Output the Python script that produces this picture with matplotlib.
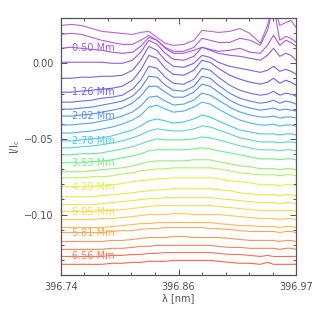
import numpy as np
import matplotlib
matplotlib.use("Agg")
import matplotlib.pyplot as plt
from matplotlib.colors import LinearSegmentedColormap
from matplotlib.ticker import AutoMinorLocator, FixedLocator

# wavelength sample points [nm]
wl = [396.740, 396.750, 396.760, 396.770, 396.780, 396.790, 396.800, 396.810,
      396.818, 396.826, 396.834, 396.842, 396.850, 396.860, 396.870, 396.878,
      396.886, 396.894, 396.905, 396.915, 396.925, 396.935, 396.942, 396.948,
      396.954, 396.960, 396.965, 396.970]

# offset of each profile (I/Ic, x1e-3), top to bottom
offsets = [25.0, 19.1, 9.9, 0.7, -9.9, -19.1, -25.7, -30.3, -34.9, -40.8,
           -46.1, -51.3, -55.9, -60.5, -65.8, -71.7, -75.7, -81.6, -88.2,
           -93.4, -98.0, -103.3, -108.6, -111.9, -117.8, -123.0, -127.7, -132.9]

# profiles relative to the blue end (x1e-3)
profiles = [
    [0, 0.7, 0, -2.0, -3.9, -4.6, -5.3, -5.9, -4.6, -3.9, -7.9, -11.8, -13.2, -12.5, -9.9, -3.3, -3.9, -4.6, -3.9, -2.0, -5.3, -11.8, 0, 16.5, 0, 2.0, 3.3, -1.3],
    [0, 0.7, 0, -2.0, -3.9, -5.3, -6.6, -6.6, -3.9, -0.7, -3.9, -8.6, -11.2, -11.2, -8.6, -2.6, -3.9, -5.3, -5.3, -2.6, -3.9, -7.2, 2.6, 19.1, -3.9, -1.3, -2.6, -5.3],
    [0, 0.7, 0, -0.7, -1.3, -2.6, -3.3, -2.6, 1.3, 7.2, 5.3, 0, -3.3, -3.3, -1.3, 0.7, -0.7, -2.0, -1.3, 0, -2.6, -3.3, 2.0, 8.6, 2.0, 5.3, 3.9, 1.3],
    [0, 0, 0, 0, 0, -0.7, -0.7, 1.3, 6.6, 14.5, 11.8, 5.9, 2.0, 1.3, 3.9, 9.9, 7.9, 5.9, 4.6, 3.9, 2.6, 1.3, 4.6, 9.2, 3.9, 5.9, 4.6, 1.3],
    [0, 0, 0.7, 0.7, 1.3, 1.3, 2.0, 5.3, 11.8, 21.1, 18.4, 11.8, 7.9, 7.2, 9.9, 15.1, 13.8, 10.5, 7.9, 6.6, 5.3, 3.9, 5.3, 7.9, 4.6, 5.9, 4.6, 2.6],
    [0, 0, 0.7, 1.3, 2.0, 2.6, 3.9, 7.9, 14.5, 24.3, 22.4, 15.8, 11.8, 11.2, 14.5, 21.1, 19.7, 15.8, 11.2, 8.6, 6.6, 5.3, 6.6, 9.2, 5.9, 7.9, 6.6, 4.6],
    [0, 0, 0.7, 1.3, 2.6, 3.3, 4.6, 8.6, 14.5, 23.7, 22.4, 16.5, 12.5, 11.8, 15.1, 22.4, 21.1, 16.5, 11.2, 7.9, 5.9, 4.6, 5.3, 7.2, 4.6, 5.9, 5.3, 3.9],
    [0, 0, 0.7, 1.3, 2.6, 3.9, 5.3, 8.6, 13.8, 21.7, 21.1, 15.8, 12.5, 11.8, 15.1, 21.7, 20.4, 15.8, 10.5, 7.2, 5.3, 3.9, 4.6, 5.9, 3.9, 5.3, 4.6, 3.3],
    [0, 0, 0.7, 1.3, 2.6, 3.9, 5.3, 8.6, 13.2, 19.7, 19.7, 15.8, 12.5, 12.5, 15.8, 21.1, 19.7, 15.8, 10.5, 7.2, 5.3, 3.9, 4.6, 5.3, 3.9, 4.6, 3.9, 3.3],
    [0, 0, 0.7, 1.3, 2.6, 3.9, 5.9, 8.6, 12.5, 18.4, 19.1, 15.8, 13.2, 13.8, 16.5, 21.1, 19.7, 16.5, 11.8, 8.6, 6.6, 5.3, 5.3, 5.9, 4.6, 5.3, 5.3, 4.6],
    [0, 0, 0.7, 1.3, 2.6, 3.9, 5.9, 8.6, 11.8, 17.1, 18.4, 15.8, 13.8, 14.5, 17.1, 20.4, 19.1, 15.8, 11.8, 8.6, 6.6, 5.3, 5.3, 5.9, 4.6, 5.3, 5.3, 4.6],
    [0, 0, 0.7, 1.3, 2.0, 3.3, 5.3, 7.2, 9.9, 13.2, 14.5, 13.2, 11.8, 12.5, 14.5, 17.1, 15.8, 13.2, 9.9, 7.2, 5.9, 4.6, 4.6, 4.6, 3.9, 4.6, 4.6, 3.9],
    [0, 0, 0.7, 1.3, 2.0, 3.3, 4.6, 6.6, 8.6, 11.2, 12.5, 11.8, 11.2, 11.2, 12.5, 14.5, 13.8, 11.8, 9.2, 6.6, 5.3, 3.9, 3.9, 3.9, 3.3, 3.9, 3.9, 3.3],
    [0, 0, 0.7, 0.7, 1.3, 2.6, 3.9, 5.3, 7.2, 9.2, 10.5, 9.9, 9.9, 9.9, 10.5, 11.8, 11.2, 9.9, 7.9, 5.9, 4.6, 3.3, 3.3, 3.3, 2.6, 3.3, 3.3, 2.6],
    [0, 0, 0, 0.7, 1.3, 2.0, 3.3, 4.6, 5.9, 7.9, 8.6, 8.6, 8.6, 8.6, 9.2, 9.9, 9.2, 7.9, 6.6, 5.3, 3.9, 2.6, 2.6, 2.6, 2.0, 2.6, 2.6, 2.0],
    [0, 0, 0, 0.7, 1.3, 2.0, 2.6, 3.9, 5.3, 6.6, 7.2, 7.2, 7.2, 7.2, 7.9, 7.9, 7.9, 6.6, 5.3, 3.9, 3.3, 2.0, 2.0, 2.0, 1.3, 2.0, 2.0, 1.3],
    [0, 0, 0, 0.7, 0.7, 1.3, 2.6, 3.3, 4.6, 5.3, 5.9, 5.9, 6.6, 6.6, 6.6, 6.6, 6.6, 5.9, 4.6, 3.3, 2.6, 2.0, 2.0, 2.0, 1.3, 2.0, 2.0, 1.3],
    [0, 0, 0, 0, 0.7, 1.3, 2.0, 3.3, 3.9, 4.6, 5.3, 5.3, 5.9, 5.9, 5.9, 5.9, 5.9, 5.3, 3.9, 3.3, 2.6, 1.3, 1.3, 1.3, 0.7, 1.3, 1.3, 0.7],
    [0, 0, 0, 0, 0.7, 1.3, 2.0, 2.6, 3.3, 3.9, 4.6, 4.6, 5.3, 5.3, 5.3, 5.3, 5.3, 4.6, 3.9, 2.6, 2.0, 1.3, 1.3, 1.3, 0.7, 1.3, 1.3, 0.7],
    [0, 0, 0, 0, 0.7, 1.3, 2.0, 2.6, 3.3, 3.9, 3.9, 4.6, 4.6, 4.6, 4.6, 4.6, 4.6, 3.9, 3.3, 2.6, 2.0, 1.3, 1.3, 1.3, 0.7, 1.3, 1.3, 0.7],
    [0, 0, 0, 0, 0.7, 0.7, 1.3, 2.0, 2.6, 3.3, 3.9, 3.9, 3.9, 3.9, 3.9, 3.9, 3.9, 3.3, 2.6, 2.0, 1.3, 0.7, 0.7, 0.7, 0.7, 0.7, 0.7, 0],
    [0, 0, 0, 0, 0.7, 0.7, 1.3, 2.0, 2.6, 3.3, 3.3, 3.3, 3.9, 3.9, 3.3, 3.3, 3.3, 3.3, 2.6, 2.0, 1.3, 0.7, 0.7, 0.7, 0, 0.7, 0.7, 0],
    [0, 0, 0, 0, 0, 0.7, 1.3, 2.0, 2.6, 2.6, 3.3, 3.3, 3.3, 3.3, 3.3, 3.3, 3.3, 2.6, 2.0, 1.3, 1.3, 0.7, 0.7, 0.7, 0, 0.7, 0.7, 0],
    [0, 0, 0, 0, 0, 0.7, 1.3, 1.3, 2.0, 2.6, 2.6, 3.3, 3.3, 3.3, 3.3, 3.3, 2.6, 2.6, 2.0, 1.3, 0.7, 0.7, 0.7, 0.7, 0, 0.7, 0.7, 0],
    [0, 0, 0, 0, 0, 0.7, 0.7, 1.3, 2.0, 2.6, 2.6, 2.6, 3.3, 3.3, 2.6, 2.6, 2.6, 2.6, 2.0, 1.3, 0.7, 0.7, 0.7, 0.7, 0, 0.7, 0.7, 0],
    [0, 0, 0, 0, 0, 0.7, 0.7, 1.3, 2.0, 2.0, 2.6, 2.6, 2.6, 2.6, 2.6, 2.6, 2.6, 2.0, 1.3, 1.3, 0.7, 0.7, 0.7, 0.7, 0, 0.7, 0.7, 0],
    [0, 0, 0, 0, 0, 0.7, 0.7, 1.3, 1.3, 2.0, 2.0, 2.6, 2.6, 2.6, 2.6, 2.6, 2.6, 2.0, 1.3, 1.3, 0.7, 0, 0.7, 0, 0, 0, 0, 0],
    [0, 0, 0, 0, 0, 0.7, 0.7, 1.3, 1.3, 2.0, 2.0, 2.0, 2.6, 2.6, 2.6, 2.6, 2.6, 2.0, 1.3, 0.7, 0.7, 0, 1.3, 0, 0, 0, 0, 0],
]

# labelled heights and which profile they belong to
label_idx = [2, 5, 8, 11, 14, 17, 20, 23, 26]
label_txt = ["0.50 Mm", "1.26 Mm", "2.02 Mm", "2.78 Mm", "3.53 Mm",
             "4.29 Mm", "5.05 Mm", "5.81 Mm", "6.56 Mm"]

cmap = LinearSegmentedColormap.from_list("spec", [
    (0.0, "#c060d8"), (0.074, "#a655e0"), (0.185, "#6e60f0"),
    (0.296, "#5090f8"), (0.407, "#45c8f0"), (0.519, "#70f080"),
    (0.630, "#e0f048"), (0.741, "#ffd848"), (0.852, "#ffa850"),
    (0.963, "#ff7050"), (1.0, "#ff6448")])

plt.rcParams['font.family'] = ['DejaVu Sans']
plt.rcParams['font.size'] = 7

fig = plt.figure(figsize=(3.14, 3.14), dpi=100)
ax = fig.add_axes([0.194, 0.124, 0.749, 0.819])

n = len(offsets)
x = np.array(wl)
for k in range(n):
    y = (offsets[k] + np.array(profiles[k])) / 1000.0
    ax.plot(x, y, color=cmap(k / (n - 1)), lw=0.8)

for k, t in zip(label_idx, label_txt):
    ax.text(396.7505, offsets[k] / 1000.0, t, color=cmap(k / (n - 1)),
            fontsize=7, va='center', ha='left')

ax.set_xlim(396.74, 396.97)
ax.set_ylim(-0.14, 0.03)
ax.xaxis.set_major_locator(FixedLocator([396.74, 396.855, 396.97]))
ax.set_xticklabels(["396.74", "396.86", "396.97"])
ax.xaxis.set_minor_locator(AutoMinorLocator(5))
ax.set_yticks([-0.10, -0.05, 0.00])
ax.set_yticklabels(["\u22120.10", "\u22120.05", "0.00"])
ax.yaxis.set_minor_locator(AutoMinorLocator(5))

gray = "#555555"
for s in ax.spines.values():
    s.set_color(gray)
    s.set_linewidth(0.9)
ax.tick_params(which='both', direction='in', top=True, right=True,
               colors=gray, labelcolor="#505050", width=0.7)
ax.tick_params(which='major', length=4, pad=5)
ax.tick_params(which='minor', length=2.2)

ax.set_xlabel("\u03bb [nm]", color="#505050", labelpad=1)
ax.set_ylabel("I/I$_\\mathregular{c}$", color="#505050", labelpad=2)

fig.savefig("out.png", dpi=100)
